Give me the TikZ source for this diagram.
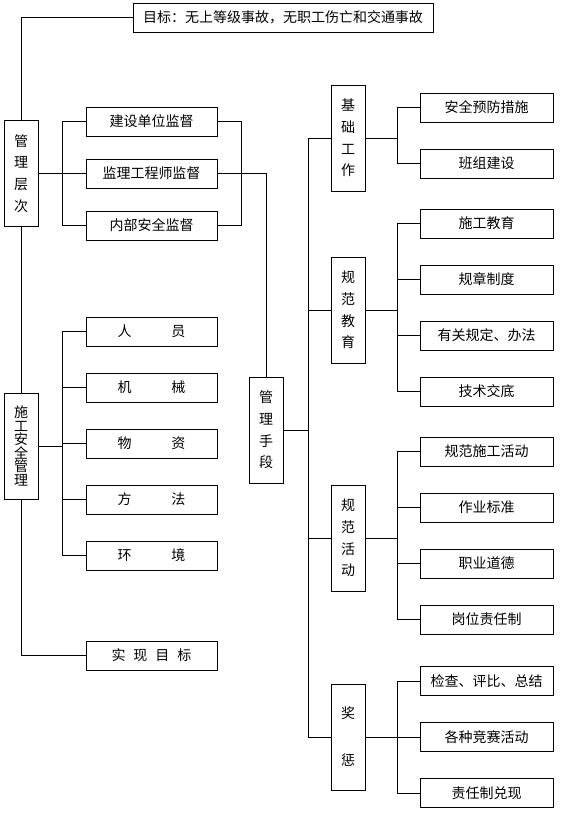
\documentclass[tikz,border=0pt]{standalone}
\usepackage{fontspec}
\setmainfont{Noto Sans CJK SC}
\tikzset{
  hbox/.style={draw, line width=1pt, inner sep=0pt, minimum height=29pt, font=\fontsize{14}{16}\selectfont},
  cbox/.style={hbox, minimum width=131pt},
  rbox/.style={hbox, minimum width=133pt},
  vbox/.style={draw, line width=1pt, inner sep=0pt, minimum width=34pt, minimum height=106pt, align=center, font=\fontsize{14}{21.7}\selectfont},
  link/.style={line width=1pt}
}
\begin{document}
\begin{tikzpicture}[x=1pt,y=-1pt]
\useasboundingbox (0,0) rectangle (564,815);
% left column
\node[hbox, minimum width=300pt] (goal) at (283,17.5) {目标：无上等级事故，无职工伤亡和交通事故};
\node[vbox] (glc) at (21,173.5) {管\\理\\层\\次};
\node[cbox] (jsd) at (151.5,121.5) {建设单位监督};
\node[cbox] (jlg) at (151.5,173.5) {监理工程师监督};
\node[cbox] (nbs) at (151.5,225.5) {内部安全监督};
\node[vbox, font=\fontsize{14}{13.5}\selectfont] (sga) at (21,446) {施\\工\\安\\全\\管\\理};
\node[cbox] (ry) at (151.5,331.5) {人\hspace{40pt}员};
\node[cbox] (jx) at (151.5,387.5) {机\hspace{40pt}械};
\node[cbox] (wz) at (151.5,443.5) {物\hspace{40pt}资};
\node[cbox] (ff) at (151.5,499.5) {方\hspace{40pt}法};
\node[cbox] (hj) at (151.5,555.5) {环\hspace{40pt}境};
\node[cbox] (sxmb) at (151.5,655.5) {实\hspace{8pt}现\hspace{8pt}目\hspace{8pt}标};
\node[vbox] (gls) at (266,430) {管\\理\\手\\段};
% categories
\node[vbox] (jcgz) at (348,138) {基\\础\\工\\作};
\node[vbox] (gfjy) at (348,310) {规\\范\\教\\育};
\node[vbox] (gfhd) at (348,538) {规\\范\\活\\动};
\node[vbox, font=\fontsize{14}{47}\selectfont] (jc) at (348,737) {奖\\惩};
% children
\node[rbox] (a1) at (486.5,107.5) {安全预防措施};
\node[rbox] (a2) at (486.5,163.5) {班组建设};
\node[rbox] (b1) at (486.5,223.5) {施工教育};
\node[rbox] (b2) at (486.5,279.5) {规章制度};
\node[rbox] (b3) at (486.5,335.5) {有关规定、办法};
\node[rbox] (b4) at (486.5,391.5) {技术交底};
\node[rbox] (c1) at (486.5,451.5) {规范施工活动};
\node[rbox] (c2) at (486.5,507.5) {作业标准};
\node[rbox] (c3) at (486.5,563.5) {职业道德};
\node[rbox] (c4) at (486.5,619.5) {岗位责任制};
\node[rbox] (d1) at (486.5,681) {检查、评比、总结};
\node[rbox] (d2) at (486.5,737) {各种竞赛活动};
\node[rbox] (d3) at (486.5,793) {责任制兑现};
% bus coordinates
\coordinate (bl) at (62,0);
\coordinate (br) at (241,0);
\coordinate (bm) at (308,0);
\coordinate (bc) at (397,0);
% left connectors
\draw[link] (goal.west) -| (glc.north);
\draw[link] (glc.south) -- (sga.north);
\draw[link] (sga.south) |- (sxmb.west);
\draw[link] (glc.east) -- (jlg.west);
\draw[link] (jsd.west) -- (jsd.west -| bl) |- (nbs.west);
\draw[link] (jsd.east) -- (jsd.east -| br) |- (nbs.east);
\draw[link] (jlg.east) -| (gls.north);
\draw[link] (sga.east) -- (sga.east -| bl);
\draw[link] (ry.west) -- (ry.west -| bl) |- (hj.west);
\foreach \n in {jx,wz,ff} \draw[link] (\n.west) -- (\n.west -| bl);
% middle connectors
\draw[link] (gls.east) -- (gls.east -| bm);
\draw[link] (jcgz.west) -- (jcgz.west -| bm) |- (jc.west);
\foreach \n in {gfjy,gfhd} \draw[link] (\n.west) -- (\n.west -| bm);
% category to children
\draw[link] (jcgz.east) -- (jcgz.east -| bc);
\draw[link] (a1.west) -- (a1.west -| bc) |- (a2.west);
\draw[link] (gfjy.east) -- (gfjy.east -| bc);
\draw[link] (b1.west) -- (b1.west -| bc) |- (b4.west);
\foreach \n in {b2,b3} \draw[link] (\n.west) -- (\n.west -| bc);
\draw[link] (gfhd.east) -- (gfhd.east -| bc);
\draw[link] (c1.west) -- (c1.west -| bc) |- (c4.west);
\foreach \n in {c2,c3} \draw[link] (\n.west) -- (\n.west -| bc);
\draw[link] (jc.east) -- (d2.west);
\draw[link] (d1.west) -- (d1.west -| bc) |- (d3.west);
\end{tikzpicture}
\end{document}
